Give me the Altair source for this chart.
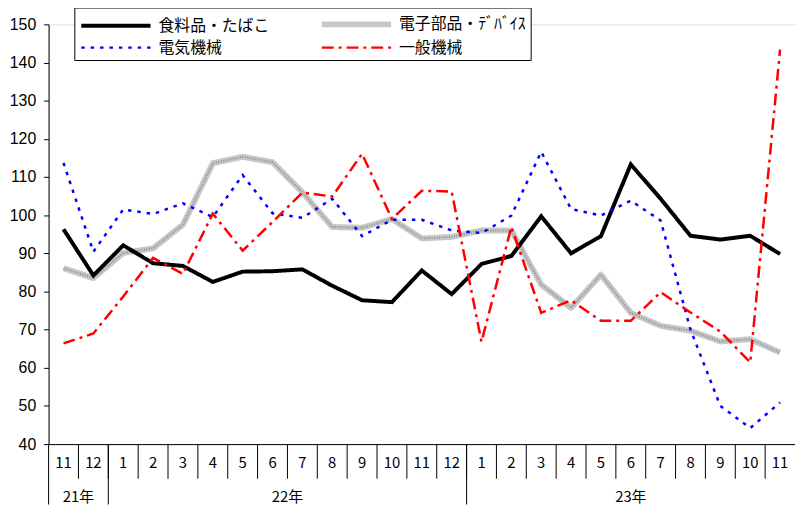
import altair as alt
import pandas as pd

# ---- data ----
months = ["11", "12", "1", "2", "3", "4", "5", "6", "7", "8", "9", "10", "11", "12",
          "1", "2", "3", "4", "5", "6", "7", "8", "9", "10", "11"]
years = ["21年", "22年", "23年"]
year_counts = [2, 12, 11]

series_names = ["食料品・たばこ", "電子部品・ﾃﾞﾊﾞｲｽ", "電気機械", "一般機械"]
food = [96.3, 84.2, 92.1, 87.4, 86.7, 82.5, 85.2, 85.3, 85.8, 81.5, 77.7, 77.2, 85.5,
        79.3, 87.2, 89.3, 99.7, 90.0, 94.5, 113.3, 104.3, 94.6, 93.6, 94.6, 89.8]
parts = [86.1, 83.5, 90.1, 91.3, 97.5, 113.6, 115.3, 113.9, 106.0, 96.9, 96.7, 99.0, 93.9,
         94.3, 96.0, 96.0, 81.8, 75.7, 84.4, 74.4, 71.0, 69.7, 66.9, 67.5, 64.0]
elec = [113.7, 90.4, 101.5, 100.3, 103.1, 99.5, 110.5, 100.5, 99.3, 104.3, 94.5, 98.8, 98.8,
        96.0, 95.3, 99.9, 116.6, 101.6, 99.9, 103.8, 98.6, 70.0, 50.0, 44.2, 50.9]
general = [66.4, 69.0, 78.7, 88.8, 84.6, 100.4, 90.7, 98.2, 105.9, 104.9, 116.1, 99.0, 106.4,
           106.2, 66.8, 96.9, 74.4, 77.7, 72.3, 72.3, 79.8, 74.5, 69.5, 61.4, 143.4]
y_ticks = [40, 50, 60, 70, 80, 90, 100, 110, 120, 130, 140, 150]

# ---- styles ----
colors = ["#000000", "#c8c8c8", "#0000ff", "#ff0000"]
dashes = [[1, 0], [1, 0], [3.5, 6], [12, 5, 3, 5]]
widths = [4, 6, 2.5, 2.5]
W, H = 754, 424
BOTTOM = 61
JP = "Noto Sans CJK JP"

rows = []
for name, vals in zip(series_names, [food, parts, elec, general]):
    for i, v in enumerate(vals):
        rows.append({"series": name, "idx": i, "value": v})
df = pd.DataFrame(rows)

sep_df = pd.DataFrame({"idx": [i - 0.5 for i in range(1, len(months))]})
bounds = [-0.5]
acc = 0
for c in year_counts[:-1]:
    acc += c
    bounds.append(acc - 0.5)
ysep_df = pd.DataFrame({"idx": bounds})
month_df = pd.DataFrame({"idx": list(range(len(months))), "label": months})
starts = [sum(year_counts[:k]) for k in range(len(year_counts))]
year_df = pd.DataFrame({"idx": [s + (c - 1) / 2 for s, c in zip(starts, year_counts)],
                        "label": years})

x_enc = alt.X("idx:Q", scale=alt.Scale(domain=[-0.5, len(months) - 0.5], nice=False, zero=False),
              axis=alt.Axis(labels=False, ticks=False, title=None, grid=False,
                            domainColor="black", domainWidth=1))
y_enc = alt.Y("value:Q", scale=alt.Scale(domain=[40, 150], nice=False, zero=False),
              axis=alt.Axis(values=y_ticks, title=None, grid=False, tickSize=5,
                            tickColor="black", domainColor="black", labelColor="black",
                            labelFont="Liberation Sans", labelFontSize=16, labelPadding=8))

leg = alt.Legend(title=None, orient="none", legendX=26, legendY=-17, columns=2,
                 direction="horizontal",
                 symbolType="M-1,0H6", symbolSize=400, labelFont=JP, labelFontSize=16,
                 labelColor="black", labelOffset=55, columnPadding=40, rowPadding=-1,
                 padding=4, strokeColor="black", fillColor="white", labelLimit=400)

enc = dict(
    x=x_enc, y=y_enc,
    color=alt.Color("series:N", scale=alt.Scale(domain=series_names, range=colors), legend=leg),
    strokeDash=alt.StrokeDash("series:N", scale=alt.Scale(domain=series_names, range=dashes), legend=leg),
    strokeWidth=alt.StrokeWidth("series:N", scale=alt.Scale(type="ordinal", domain=series_names, range=widths), legend=leg),
)

gray_base = alt.Chart(df[df.series == series_names[1]]).mark_line(strokeJoin="round").encode(**enc)
gray_over = alt.Chart(df[df.series == series_names[1]]).mark_line(
    color="#8c8c8c", strokeWidth=2, strokeDash=[1, 1.5]).encode(x=x_enc, y=y_enc)
others = alt.Chart(df[df.series != series_names[1]]).mark_line(strokeJoin="miter").encode(**enc)

month_rules = alt.Chart(sep_df).mark_rule(color="black", strokeWidth=1).encode(
    x="idx:Q", y=alt.value(H), y2=alt.value(H + 35))
year_rules = alt.Chart(ysep_df).mark_rule(color="black", strokeWidth=1).encode(
    x="idx:Q", y=alt.value(H), y2=alt.value(H + BOTTOM))
month_text = alt.Chart(month_df).mark_text(font=JP, fontSize=15, color="black", baseline="middle").encode(
    x="idx:Q", y=alt.value(H + 19), text="label:N")
year_text = alt.Chart(year_df).mark_text(font=JP, fontSize=15, color="black", baseline="middle").encode(
    x="idx:Q", y=alt.value(H + 53), text="label:N")

chart = alt.layer(gray_base, gray_over, others, month_rules, year_rules, month_text, year_text).properties(
    width=W, height=H,
    autosize=alt.AutoSizeParams(type="none"),
    padding={"left": 41, "top": 14, "right": 0, "bottom": BOTTOM},
).configure_view(stroke=None).configure(background="white")

chart.save("out.html", embed_options={"renderer": "svg", "actions": False})
